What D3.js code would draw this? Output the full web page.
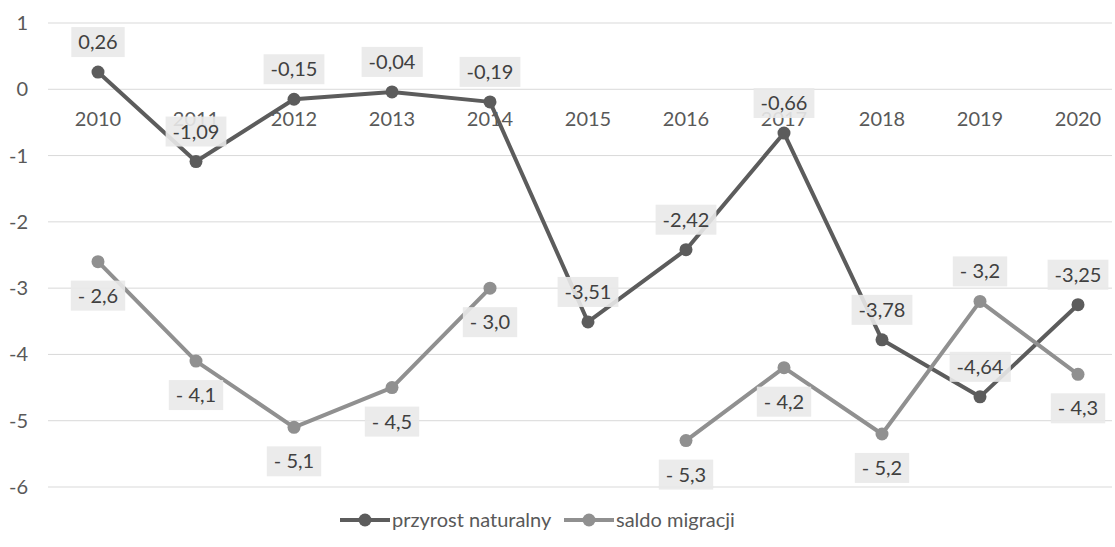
<!DOCTYPE html>
<html>
<head>
<meta charset="utf-8">
<script src="https://cdn.jsdelivr.net/npm/d3@7"></script>
<style>
  body { margin: 0; background: #fff; }
  svg { font-family: Lato, "Open Sans", sans-serif; }
</style>
</head>
<body>
<svg width="1115" height="547"></svg>
<script>
var years = ["2010", "2011", "2012", "2013", "2014", "2015", "2016", "2017", "2018", "2019", "2020"];
var przyrost = [0.26, -1.09, -0.15, -0.04, -0.19, -3.51, -2.42, -0.66, -3.78, -4.64, -3.25];
var saldo = [-2.6, -4.1, -5.1, -4.5, -3.0, null, -5.3, -4.2, -5.2, -3.2, -4.3];
var saldoAbove = [false, false, false, false, false, false, false, false, false, true, false];
var yTicks = [1, 0, -1, -2, -3, -4, -5, -6];

var svg = d3.select("svg");

var x = d3.scalePoint().domain(years).range([98, 1078]);
var y = d3.scaleLinear().domain([-6, 1]).range([487, 23]);

// gridlines
svg.append("g")
  .selectAll("line")
  .data(yTicks)
  .join("line")
  .attr("x1", 48).attr("x2", 1112)
  .attr("y1", d => y(d)).attr("y2", d => y(d))
  .attr("stroke", "#d9d9d9")
  .attr("stroke-width", 1);

// y axis labels
svg.append("g")
  .selectAll("text")
  .data(yTicks)
  .join("text")
  .attr("x", 28)
  .attr("y", d => y(d))
  .attr("dy", "0.35em")
  .attr("text-anchor", "end")
  .attr("font-size", 20)
  .attr("fill", "#595959")
  .text(d => d);

// category labels at zero line
svg.append("g")
  .selectAll("text")
  .data(years)
  .join("text")
  .attr("x", d => x(d))
  .attr("y", y(0) + 37)
  .attr("text-anchor", "middle")
  .attr("font-size", 20)
  .attr("fill", "#595959")
  .text(d => d);

var line = d3.line()
  .defined(d => d.v != null)
  .x(d => x(d.year))
  .y(d => y(d.v));

function series(vals) {
  return years.map((yr, i) => ({year: yr, v: vals[i], i: i}));
}

var series1 = series(przyrost);
var series2 = series(saldo);

function drawSeries(data, color) {
  svg.append("path")
    .datum(data)
    .attr("fill", "none")
    .attr("stroke", color)
    .attr("stroke-width", 4)
    .attr("stroke-linejoin", "round")
    .attr("d", line);
  svg.append("g")
    .selectAll("circle")
    .data(data.filter(d => d.v != null))
    .join("circle")
    .attr("cx", d => x(d.year))
    .attr("cy", d => y(d.v))
    .attr("r", 6.5)
    .attr("fill", color);
}

drawSeries(series1, "#5c5c5c");
drawSeries(series2, "#909090");

function fmt1(v) { return v.toFixed(2).replace(".", ","); }
function fmt2(v) { return "- " + Math.abs(v).toFixed(1).replace(".", ","); }

function drawLabels(data, fmt, aboveFn) {
  var g = svg.append("g")
    .selectAll("g")
    .data(data.filter(d => d.v != null))
    .join("g")
    .attr("transform", d => "translate(" + x(d.year) + "," + (y(d.v) + (aboveFn(d) ? -30 : 34)) + ")");
  g.append("text")
    .attr("text-anchor", "middle")
    .attr("dy", "0.35em")
    .attr("font-size", 20)
    .attr("fill", "#404040")
    .text(d => fmt(d.v));
  g.each(function () {
    var gg = d3.select(this);
    var bb = gg.select("text").node().getBBox();
    gg.insert("rect", "text")
      .attr("x", bb.x - 7)
      .attr("y", -15)
      .attr("width", bb.width + 14)
      .attr("height", 30)
      .attr("fill", "#e9e9e9")
      .attr("opacity", 0.9);
  });
}

drawLabels(series1, fmt1, d => true);
drawLabels(series2, fmt2, d => saldoAbove[d.i]);

// legend
var legendItems = [
  {name: "przyrost naturalny", color: "#5c5c5c", x: 340},
  {name: "saldo migracji", color: "#909090", x: 564}
];
var lg = svg.append("g")
  .selectAll("g")
  .data(legendItems)
  .join("g")
  .attr("transform", d => "translate(" + d.x + ",520)");
lg.append("line")
  .attr("x1", 0).attr("x2", 50)
  .attr("stroke", d => d.color)
  .attr("stroke-width", 4);
lg.append("circle")
  .attr("cx", 25).attr("r", 6.5)
  .attr("fill", d => d.color);
lg.append("text")
  .attr("x", 52)
  .attr("dy", "0.35em")
  .attr("font-size", 20)
  .attr("fill", "#595959")
  .text(d => d.name);
</script>
</body>
</html>
